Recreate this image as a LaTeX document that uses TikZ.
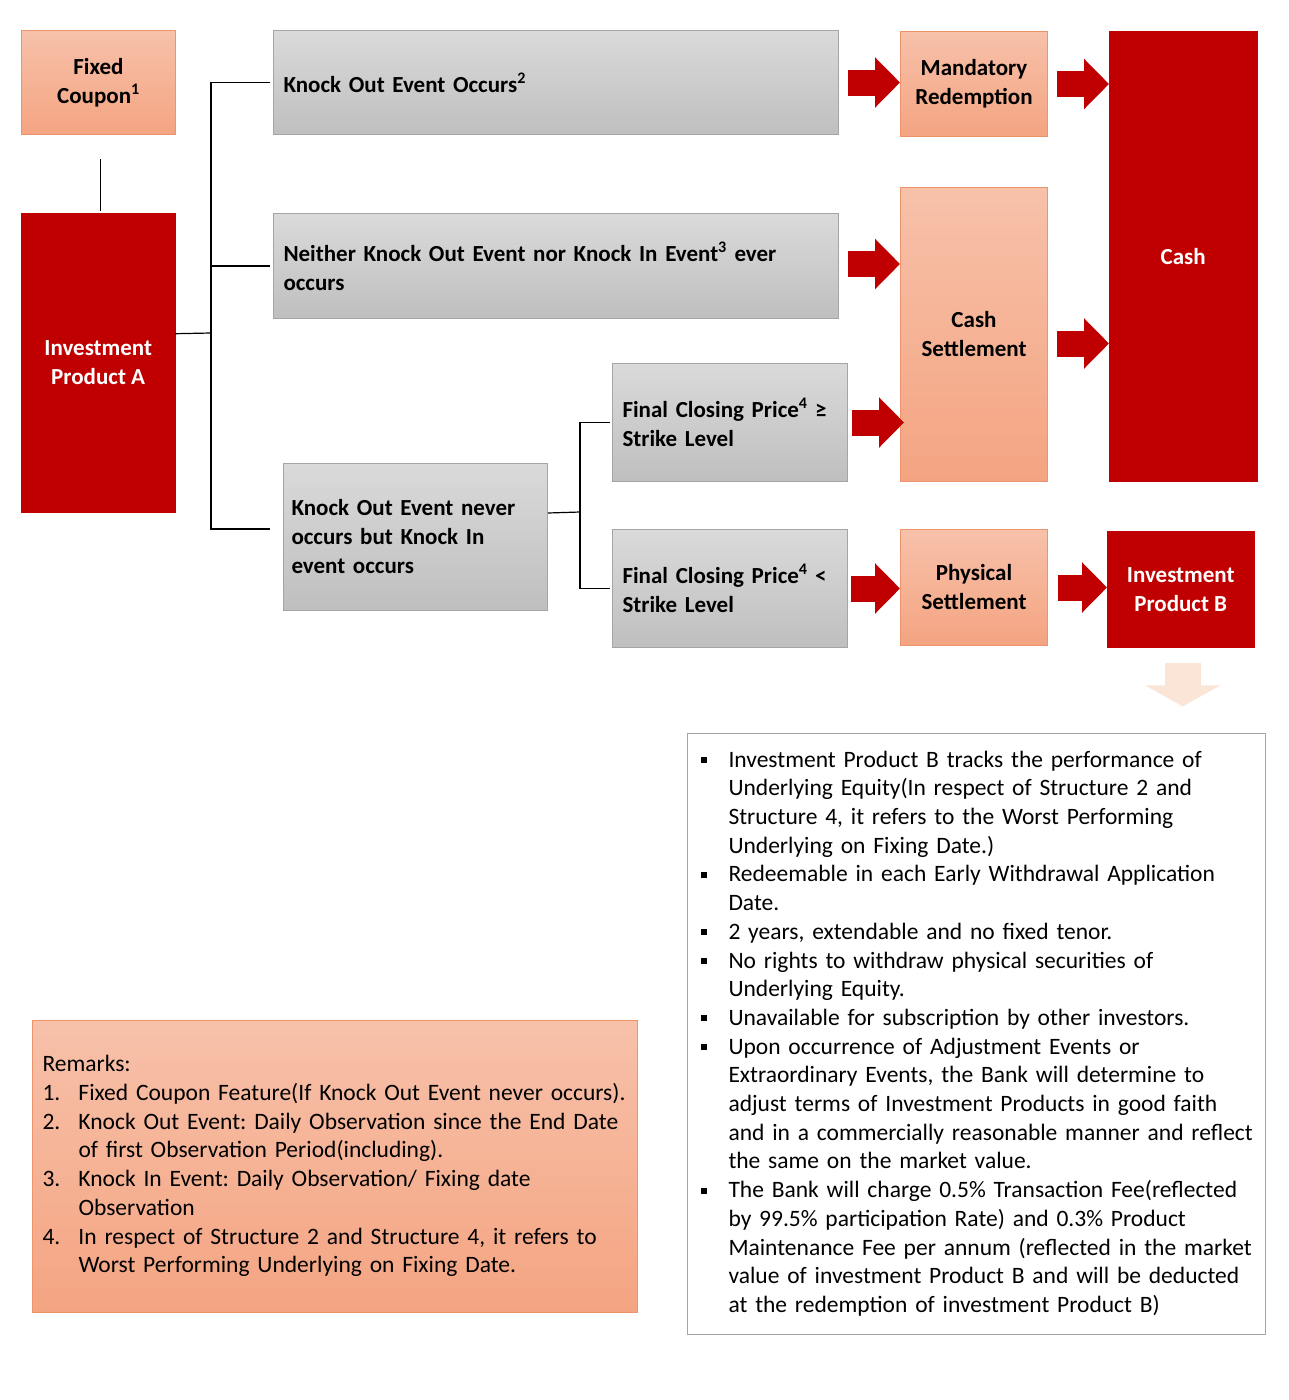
\documentclass[tikz,border=0pt]{standalone}
\usepackage{fontspec}
\setmainfont{Carlito}
\usepackage{xcolor}
\usepackage{array}
\usepackage{tikz}
\usetikzlibrary{arrows.meta}

\definecolor{deepred}{RGB}{192,0,0}
\definecolor{salmontop}{RGB}{247,193,170}
\definecolor{salmonbot}{RGB}{244,164,129}
\definecolor{salmonedge}{RGB}{236,148,108}
\definecolor{greytop}{RGB}{218,218,218}
\definecolor{greybot}{RGB}{191,191,191}
\definecolor{greyedge}{RGB}{165,165,165}
\definecolor{peach}{RGB}{251,229,214}

\newcommand{\boxfont}{\fontsize{23}{29}\selectfont}
\newcommand{\notefont}{\fontsize{23.5}{28.7}\selectfont}
\newcommand{\bul}{\rule[4pt]{6pt}{6pt}}
\frenchspacing

\begin{document}
\begin{tikzpicture}[x=1pt,y=-1pt,
  salmonbox/.style={draw=salmonedge, line width=1pt, top color=salmontop, bottom color=salmonbot,
    font=\boxfont\bfseries, align=center, inner sep=0pt, anchor=north west},
  greybox/.style={draw=greyedge, line width=1pt, top color=greytop, bottom color=greybot,
    font=\boxfont\bfseries, align=left, inner ysep=0pt, inner xsep=10pt, anchor=north west},
  redbox/.style={fill=deepred, draw=deepred, text=white,
    font=\boxfont\bfseries, align=center, inner sep=0pt, anchor=north west},
  branch/.style={black, line width=1.2pt},
  blockarr/.style={deepred, line width=26pt, -{Triangle[width=49pt,length=25pt]}},
  downarr/.style={peach, line width=36pt, -{Triangle[width=74pt,length=21pt]}}]
  % Canvas
  \fill[white] (0,0) rectangle (1288,1400);
  \useasboundingbox (0,0) rectangle (1288,1400);
  % Left column
  \node[salmonbox, minimum width=154pt, minimum height=104pt] (fixcpn) at (21,30) {Fixed\\Coupon\textsuperscript{1}};
  \node[redbox, minimum width=154pt, minimum height=299pt] (invA) at (21,213) {Investment\\Product A};
  % Events
  \node[greybox, text width=545pt, minimum height=104pt] (koocc) at (273,30) {Knock Out Event Occurs\textsuperscript{2}};
  \node[greybox, text width=545pt, minimum height=105pt] (neither) at (273,213) {Neither Knock Out Event nor Knock In Event\textsuperscript{3} ever\\occurs};
  \node[greybox, inner xsep=8pt, text width=248pt, minimum height=147pt] (konever) at (283,463) {Knock Out Event never\\occurs but Knock In\\event occurs};
  \node[greybox, text width=215pt, minimum height=118pt] (fcpge) at (612,363) {Final Closing Price\textsuperscript{4} ≥\\Strike Level};
  \node[greybox, text width=215pt, minimum height=118pt] (fcplt) at (612,529) {Final Closing Price\textsuperscript{4} <\\Strike Level};
  % Settlements
  \node[salmonbox, minimum width=147pt, minimum height=105pt] (mand) at (900,31) {Mandatory\\Redemption};
  \node[salmonbox, minimum width=147pt, minimum height=294pt] (cashset) at (900,187) {Cash\\Settlement};
  \node[salmonbox, minimum width=147pt, minimum height=116pt] (physet) at (900,529) {Physical\\Settlement};
  % Results
  \node[redbox, minimum width=148pt, minimum height=450pt] (cash) at (1109,31) {Cash};
  \node[redbox, minimum width=147pt, minimum height=116pt] (invB) at (1107,531) {Investment\\Product B};
  % Tree lines
  \draw[branch] ([yshift=-24pt]fixcpn.south) ++(2,0) -- ++(0,52);
  \coordinate (split) at (211,333);
  \draw[branch] ([yshift=29pt]invA.east) -- (split);
  \draw[branch] ([xshift=-3pt]koocc.west) -| (split) |- ([xshift=-13pt,yshift=8pt]konever.west);
  \draw[branch] (split |- neither.west) -- ([xshift=-3pt]neither.west);
  \coordinate (split2) at (580,512);
  \draw[branch] ([yshift=24pt]konever.east) -- (split2);
  \draw[branch] ([xshift=-2pt]fcpge.west) -| (split2) |- ([xshift=-2pt]fcplt.west);
  % Block arrows
  \draw[blockarr] ([xshift=9pt]koocc.east) -- (koocc.east -| mand.west);
  \draw[blockarr] ([xshift=9pt]mand.east) -- (mand.east -| cash.west);
  \draw[blockarr] ([xshift=9pt,yshift=2pt]neither.east) -- ([yshift=2pt]neither.east -| cashset.west);
  \draw[blockarr] ([xshift=4pt]fcpge.east) -- ([xshift=4pt]fcpge.east -| cashset.west);
  \coordinate (c5) at ([xshift=9pt,yshift=-9pt]cashset.east);
  \draw[blockarr] (c5) -- (c5 -| cash.west);
  \draw[blockarr] ([xshift=3pt]fcplt.east) -- (fcplt.east -| physet.west);
  \draw[blockarr] ([xshift=10pt]physet.east) -- (physet.east -| invB.west);
  \draw[downarr] ([xshift=2pt,yshift=-16pt]invB.south) -- ([xshift=2pt,yshift=-59pt]invB.south);
  % Notes on product B
  \node[draw=greyedge, line width=1pt, fill=white, anchor=north west, inner xsep=13pt, inner ysep=0pt,
    text width=552pt, align=left, minimum height=601pt, font=\notefont] (notes) at (687,733) {%
    \begin{tabular}{@{}p{28pt}@{}l@{}}
    \bul & Investment Product B tracks the performance of\\
         & Underlying Equity(In respect of Structure 2 and\\
         & Structure 4, it refers to the Worst Performing\\
         & Underlying on Fixing Date.)\\
    \bul & Redeemable in each Early Withdrawal Application\\
         & Date.\\
    \bul & 2 years, extendable and no fixed tenor.\\
    \bul & No rights to withdraw physical securities of\\
         & Underlying Equity.\\
    \bul & Unavailable for subscription by other investors.\\
    \bul & Upon occurrence of Adjustment Events or\\
         & Extraordinary Events, the Bank will determine to\\
         & adjust terms of Investment Products in good faith\\
         & and in a commercially reasonable manner and reflect\\
         & the same on the market value.\\
    \bul & The Bank will charge 0.5\% Transaction Fee(reflected\\
         & by 99.5\% participation Rate) and 0.3\% Product\\
         & Maintenance Fee per annum (reflected in the market\\
         & value of investment Product B and will be deducted\\
         & at the redemption of investment Product B)
    \end{tabular}};
  % Remarks
  \node[draw=salmonedge, line width=1pt, top color=salmontop, bottom color=salmonbot, anchor=north west,
    inner xsep=10pt, inner ysep=0pt, text width=585pt, align=left, minimum height=292pt, font=\notefont] (remarks) at (32,1020) {%
    \begin{tabular}{@{}p{36pt}@{}l@{}}
    \multicolumn{2}{@{}l@{}}{Remarks:}\\
    1. & Fixed Coupon Feature(If Knock Out Event never occurs).\\
    2. & Knock Out Event: Daily Observation since the End Date\\
       & of first Observation Period(including).\\
    3. & Knock In Event: Daily Observation/ Fixing date\\
       & Observation\\
    4. & In respect of Structure 2 and Structure 4, it refers to\\
       & Worst Performing Underlying on Fixing Date.
    \end{tabular}};
\end{tikzpicture}
\end{document}
